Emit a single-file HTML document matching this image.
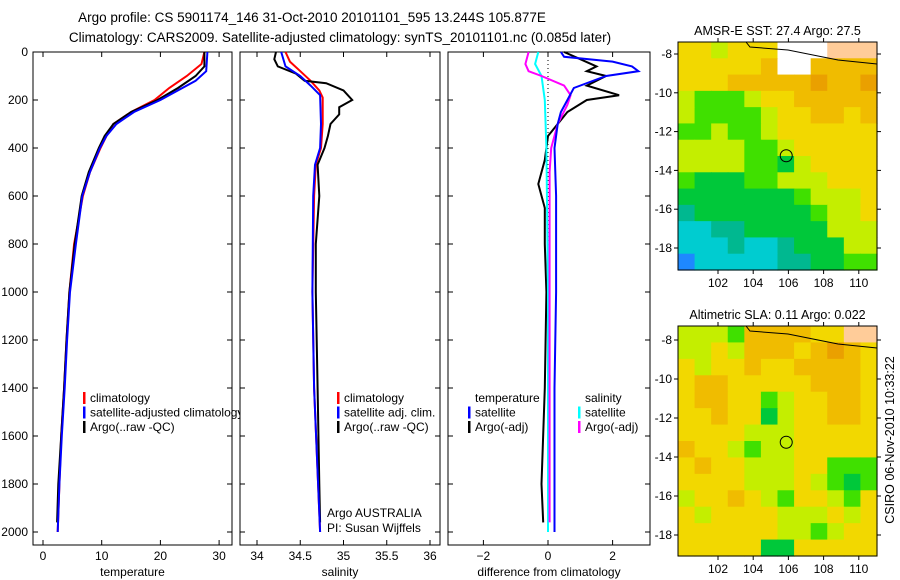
<!DOCTYPE html>
<html><head><meta charset="utf-8"><style>
html,body{margin:0;padding:0;background:#fff;}
svg{display:block;font-family:"Liberation Sans",sans-serif;}
</style></head><body>
<svg id="fig" width="900" height="580" viewBox="0 0 900 580" xmlns="http://www.w3.org/2000/svg">
<text x="312" y="22" font-size="13.5" text-anchor="middle">Argo profile: CS 5901174_146 31-Oct-2010 20101101_595 13.244S 105.877E</text>
<text x="340" y="42" font-size="13.5" text-anchor="middle">Climatology: CARS2009. Satellite-adjusted climatology: synTS_20101101.nc (0.085d later)</text>
<g id="plots"></g>
<text transform="translate(894,440) rotate(-90)" font-size="12.5" text-anchor="middle">CSIRO 06-Nov-2010 10:33:22</text>
</svg>
<script>
// ---- profile data ----
const tClimDepth=[0,50,100,150,200,250,300,350,400,500,600,800,1000,1200,1400,1600,1800,2000];
const tClimVal=[27.5,27,24.5,21.5,19,15,12,10.8,9.8,8,6.8,5.3,4.5,4,3.6,3.1,2.8,2.5];
const tSatDepth=[0,80,120,160,200,250,300,350,400,500,600,800,1000,1200,1400,1600,1800,2000];
const tSatVal=[28,27.8,26,23,20,15.5,12.5,10.8,9.7,8,6.7,5.6,4.6,4.1,3.7,3.2,2.8,2.5];
const tArgoDepth=[0,60,100,150,200,250,300,350,400,500,600,800,1000,1200,1400,1600,1800,1960];
const tArgoVal=[27.5,27.5,26,23,19.5,15,12,10.5,9.5,7.8,6.6,5.4,4.5,4,3.6,3.1,2.6,2.4];
const sClimDepth=[0,40,80,120,160,190,300,400,470,600,1000,1400,2000];
const sClimVal=[34.33,34.38,34.5,34.62,34.72,34.76,34.76,34.74,34.68,34.66,34.64,34.66,34.73];
const sSatDepth=[0,60,100,140,180,300,400,470,600,1000,1400,2000];
const sSatVal=[34.28,34.33,34.5,34.62,34.73,34.74,34.73,34.67,34.65,34.64,34.66,34.73];
const sArgoDepth=[0,30,60,90,120,130,160,200,230,260,300,350,400,470,600,800,1000,1400,1800,1960];
const sArgoVal=[34.22,34.2,34.24,34.45,34.55,34.8,35.0,35.1,34.95,34.95,34.85,34.82,34.78,34.7,34.72,34.68,34.68,34.7,34.72,34.73];
const dTSatDepth=[0,20,40,60,80,100,150,200,250,300,350,400,600,1000,1400,2000];
const dTSatVal=[0.4,0.5,2.0,2.6,2.8,1.8,0.8,0.6,0.4,0.3,0.25,0.2,0.25,0.25,0.2,0.2];
const dTArgoDepth=[0,30,60,80,100,140,180,200,250,300,350,450,550,650,800,1000,1400,1800,1960];
const dTArgoVal=[0.5,1.0,1.5,1.2,1.8,1.2,2.2,1.2,0.6,0.3,0.0,-0.1,-0.3,-0.1,-0.1,-0.05,-0.1,-0.2,-0.15];
const dSSatDepth=[0,50,100,200,400,1000,2000];
const dSSatVal=[-0.3,-0.4,-0.2,-0.1,-0.05,0,0];
const dSArgoDepth=[0,50,80,100,140,180,220,300,400,500,1000,1960];
const dSArgoVal=[-0.6,-0.7,-0.6,-0.2,0.5,0.7,0.6,0.3,0.1,0.05,0.05,0.05];
const depthTicks=[0,200,400,600,800,1000,1200,1400,1600,1800,2000];
const tempTicks=[0,10,20,30];
const salTicks=[34,34.5,35,35.5,36];
const diffTicks=[-2,0,2];
// ---- map data (colour classes) ----
const sstRows=["YYKYYYWWWSSS","YYYYYOWWOOOO","YYYOOOOODOOD","KLLLKYYOOOOO","KLLLLKYYOOYO","LLKLLKYYYYYY","KKKKLLKYYYYY","KKKKLLGKYYYY","LGGGLLKKKYYY","GGGGGGGLKKKY","TGGGGGGGLKKY","CCTTGGGGGKKK","CCCTCCTGGGKK","BCCCCCTTGGLL"];
const slaRows=["KKKLOOOOYYSS","KKYKOOOYODOY","YKYYOYYOOOOY","YOOYYYYYOOOY","YOOYYLKYYOOY","YYOYYGKYYOOY","YYYYKKKYYYYY","OYYKLKKYYYYY","YOYYKKKYYLLL","YYYYKKKYKLGL","KYYOYKLYYKLY","YKYYYYKKKYKY","YYYYYYKKLKYY","YYYYYGGYYYYY"];
const lonTicks=[102,104,106,108,110];
const latTicks=[-8,-10,-12,-14,-16,-18];

const NS="http://www.w3.org/2000/svg";
const root=document.getElementById('plots');
function mk(tag,attrs,parent){const e=document.createElementNS(NS,tag);for(const k in attrs)e.setAttribute(k,attrs[k]);(parent||root).appendChild(e);return e;}
const Y0=52,Y1=545;
const yD=d=>52+d*0.24;
function panel(name,x0,x1,xs,ticks,fmt,label,showY){
  const g=mk('g',{});
  
  
  const r=mk('rect',{x:x0,y:Y0,width:x1-x0,height:Y1-Y0,fill:'#fff',stroke:'#000','stroke-width':1},g);
  
  
  ticks.forEach(t=>{const x=xs(t);
    mk('line',{x1:x,x2:x,y1:Y1,y2:Y1-5,stroke:'#000'},g);
    mk('line',{x1:x,x2:x,y1:Y0,y2:Y0+5,stroke:'#000'},g);
    const tx=mk('text',{x:x,y:Y1+15,'font-size':12,'text-anchor':'middle'},g);tx.textContent=fmt(t);
    
    
  });
  depthTicks.forEach(d=>{const y=yD(d);
    mk('line',{x1:x0,x2:x0+5,y1:y,y2:y,stroke:'#000'},g);
    mk('line',{x1:x1,x2:x1-5,y1:y,y2:y,stroke:'#000'},g);
    if(showY){const tx=mk('text',{x:x0-5,y:y+4,'font-size':12,'text-anchor':'end'},g);tx.textContent=d;
      
      }
  });
  const lb=mk('text',{x:(x0+x1)/2,y:576,'font-size':12,'text-anchor':'middle'},g);lb.textContent=label;
  
  
  return g;
}
function line(g,name,depths,vals,xs,color,w){
  const pts=depths.map((d,i)=>xs(vals[i]).toFixed(1)+','+yD(d).toFixed(1)).join(' ');
  const p=mk('polyline',{points:pts,fill:'none',stroke:color,'stroke-width':w||2},g);
  
  
}
function legend(g,x,y,entries){
  entries.forEach((e,i)=>{const yy=y+i*14.5;
    if(e[1]){const b=mk('rect',{x:x,y:yy-10,width:2.5,height:12,fill:e[1]},g);
      
      }
    const t=mk('text',{x:x+7,y:yy,'font-size':12},g);t.textContent=e[0];
    
    
  });
}
// temperature
const xT=v=>43+v*5.87;
const g1=panel('temperature-panel',33,232,xT,tempTicks,String,'temperature',true);
line(g1,'temp-climatology',tClimDepth,tClimVal,xT,'#ff0000');
line(g1,'temp-argo',tArgoDepth,tArgoVal,xT,'#000000');
line(g1,'temp-satellite',tSatDepth,tSatVal,xT,'#0000ff');
legend(g1,83,402,[['climatology','#ff0000'],['satellite-adjusted climatology','#0000ff'],['Argo(..raw -QC)','#000']]);
// salinity
const xS=v=>257+(v-34)*86.5;
const g2=panel('salinity-panel',240,440,xS,salTicks,String,'salinity',false);
line(g2,'sal-climatology',sClimDepth,sClimVal,xS,'#ff0000');
line(g2,'sal-argo',sArgoDepth,sArgoVal,xS,'#000000');
line(g2,'sal-satellite',sSatDepth,sSatVal,xS,'#0000ff');
legend(g2,337,402,[['climatology','#ff0000'],['satellite adj. clim.','#0000ff'],['Argo(..raw -QC)','#000']]);
const a1=mk('text',{x:327,y:517,'font-size':12},g2);a1.textContent='Argo AUSTRALIA';

const a2=mk('text',{x:327,y:532,'font-size':12},g2);a2.textContent='PI: Susan Wijffels';

// difference
const xDf=v=>548+v*32.3;
const g3=panel('difference-panel',448,650,xDf,diffTicks,v=>v<0?'\u2212'+(-v):String(v),'difference from climatology',false);
const z=mk('line',{x1:xDf(0),x2:xDf(0),y1:Y0,y2:yD(2000),stroke:'#000','stroke-dasharray':'1,3'},g3);

line(g3,'diff-temp-argo',dTArgoDepth,dTArgoVal,xDf,'#000000');
line(g3,'diff-sal-satellite',dSSatDepth,dSSatVal,xDf,'#00ffff');
line(g3,'diff-sal-argo',dSArgoDepth,dSArgoVal,xDf,'#ff00ff');
line(g3,'diff-temp-satellite',dTSatDepth,dTSatVal,xDf,'#0000ff');
legend(g3,468,402,[['temperature',null],['satellite','#0000ff'],['Argo(-adj)','#000']]);
legend(g3,578,402,[['salinity',null],['satellite','#00ffff'],['Argo(-adj)','#ff00ff']]);
// maps
const pal={B:'#1e88ff',C:'#00ccd0',T:'#00b890',G:'#00c83a',L:'#40e000',K:'#c4ee00',Y:'#f2d800',O:'#f0bc00',D:'#eaa000',W:'#ffffff',S:'#ffcc99'};
function map(name,title,top,rows,bottom){
  const g=mk('g',{});
  
  
  const x0=678,x1=877,y0=top,y1=bottom;
  const latY8=top===42?54:340, latY18=top===42?248:535;
  const yL=l=>latY8+(-8-l)/10*(latY18-latY8);
  const xL=l=>718+(l-102)*17.6;
  const nr=rows.length,nc=rows[0].length,cw=(x1-x0)/nc,ch=(y1-y0)/nr;
  rows.forEach((row,r)=>{for(let c=0;c<nc;c++){
    const cell=mk('rect',{x:x0+c*cw,y:y0+r*ch,width:cw+0.6,height:ch+0.6,fill:pal[row[c]]},g);
    
    
  }});
  const coast=mk('polyline',{points:`${x0+68},${y0} ${x0+72},${y0+5} ${x0+110},${y0+8} ${x0+140},${y0+14} ${x0+160},${y0+18} ${x1},${y0+22}`,fill:'none',stroke:'#000','stroke-width':1},g);
  
  const c=mk('circle',{cx:xL(105.877),cy:yL(-13.244),r:6,fill:'none',stroke:'#000'},g);
  
  mk('rect',{x:x0,y:y0,width:x1-x0,height:y1-y0,fill:'none',stroke:'#000'},g);
  lonTicks.forEach(l=>{const x=xL(l);
    mk('line',{x1:x,x2:x,y1:y1,y2:y1+4,stroke:'#000'},g);mk('line',{x1:x,x2:x,y1:y0,y2:y0-4,stroke:'#000'},g);
    const t=mk('text',{x:x,y:y1+17,'font-size':12,'text-anchor':'middle'},g);t.textContent=l;
    });
  latTicks.forEach(l=>{const y=yL(l);
    mk('line',{x1:x0,x2:x0-4,y1:y,y2:y,stroke:'#000'},g);mk('line',{x1:x1,x2:x1+4,y1:y,y2:y,stroke:'#000'},g);
    const t=mk('text',{x:x0-6,y:y+4,'font-size':12,'text-anchor':'end'},g);t.textContent=l;
    });
  const t=mk('text',{x:(x0+x1)/2,y:y0-7,'font-size':12.5,'text-anchor':'middle'},g);t.textContent=title;
  
}
map('sst-map','AMSR-E SST: 27.4 Argo: 27.5',42,sstRows,270);
map('sla-map','Altimetric SLA: 0.11 Argo: 0.022',326,slaRows,556);
</script>
</body></html>
